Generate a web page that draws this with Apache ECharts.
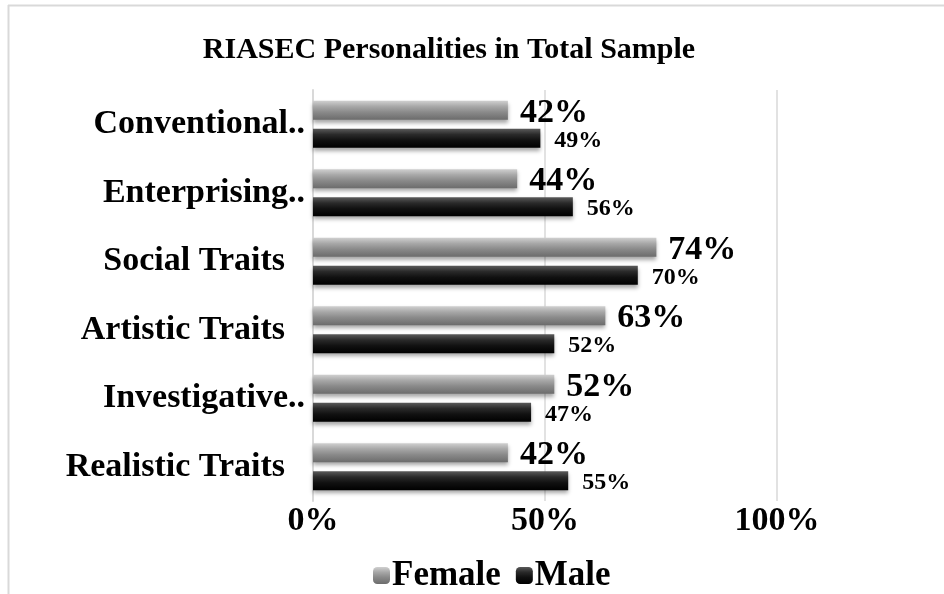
<!DOCTYPE html>
<html>
<head>
<meta charset="utf-8">
<script src="https://cdn.jsdelivr.net/npm/echarts@6/dist/echarts.min.js"></script>
<style>
  html, body { margin: 0; padding: 0; background: #fff; }
  #main { width: 944px; height: 594px; }
</style>
</head>
<body>
<div id="main"></div>
<script>
var categories = ['Realistic Traits', 'Investigative..', 'Artistic Traits', 'Social Traits', 'Enterprising..', 'Conventional..'];
var female = [42, 52, 63, 74, 44, 42];
var male = [55, 47, 52, 70, 56, 49];
var xTicks = [0, 50, 100];

var serif = "'Liberation Serif', 'Times New Roman', serif";

var myChart = echarts.init(document.getElementById('main'));
var option = {
    backgroundColor: '#fff',
    textStyle: { fontFamily: serif },
    graphic: [
        { type: 'line', shape: { x1: 8, y1: 5.5, x2: 944, y2: 5.5 }, style: { stroke: '#d9d9d9', lineWidth: 2 } },
        { type: 'line', shape: { x1: 8.5, y1: 5, x2: 8.5, y2: 594 }, style: { stroke: '#d9d9d9', lineWidth: 2 } }
    ],
    title: {
        text: 'RIASEC Personalities in Total Sample',
        left: 444,
        textAlign: 'center',
        top: 30,
        textStyle: { fontFamily: serif, fontWeight: 'bold', fontSize: 30, color: '#000' }
    },
    legend: {
        data: ['Female', 'Male'],
        top: 553,
        left: 368,
        itemWidth: 17,
        itemHeight: 17,
        itemGap: 15,
        textStyle: { fontFamily: serif, fontWeight: 'bold', fontSize: 35, color: '#000', padding: [0, 0, 0, -3] }
    },
    grid: { left: 313, right: 167, top: 90, bottom: 93 },
    xAxis: {
        type: 'value',
        min: 0,
        max: 100,
        interval: 50,
        axisLine: { show: false },
        axisTick: { show: false },
        splitLine: { lineStyle: { color: '#d9d9d9', width: 1.5 } },
        axisLabel: {
            margin: 3,
            fontFamily: serif,
            fontWeight: 'bold',
            fontSize: 34,
            color: '#000',
            formatter: function (v) { return xTicks.indexOf(v) >= 0 ? v + '%' : ''; }
        }
    },
    yAxis: {
        type: 'category',
        data: categories,
        axisLine: { lineStyle: { color: '#d9d9d9', width: 2 } },
        axisTick: { show: false },
        axisLabel: {
            margin: 8,
            formatter: function (v) {
                return v.slice(-2) === '..' ? '{a|' + v + '}' : '{b|' + v + '}';
            },
            rich: {
                a: { fontFamily: serif, fontWeight: 'bold', fontSize: 34, color: '#000' },
                b: { fontFamily: serif, fontWeight: 'bold', fontSize: 34, color: '#000', padding: [0, 20, 0, 0] }
            }
        }
    },
    series: [{
        name: 'Female',
        type: 'bar',
        data: female,
        barWidth: 19,
        barGap: '48%',
        itemStyle: {
            color: new echarts.graphic.LinearGradient(0, 0, 0, 1, [
                { offset: 0, color: '#d0d0d0' },
                { offset: 0.3, color: '#a8a8a8' },
                { offset: 0.6, color: '#8a8a8a' },
                { offset: 1, color: '#6c6c6c' }
            ]),
            shadowColor: 'rgba(0,0,0,0.35)',
            shadowBlur: 4,
            shadowOffsetY: 3
        },
        label: {
            show: true,
            position: 'right',
            distance: 12,
            offset: [0, 3],
            formatter: '{c}%',
            fontFamily: serif,
            fontWeight: 'bold',
            fontSize: 34,
            color: '#000'
        }
    }, {
        name: 'Male',
        type: 'bar',
        data: male,
        barWidth: 19,
        itemStyle: {
            color: new echarts.graphic.LinearGradient(0, 0, 0, 1, [
                { offset: 0, color: '#5a5a5a' },
                { offset: 0.3, color: '#2a2a2a' },
                { offset: 0.6, color: '#111' },
                { offset: 1, color: '#000' }
            ]),
            shadowColor: 'rgba(0,0,0,0.35)',
            shadowBlur: 4,
            shadowOffsetY: 3
        },
        label: {
            show: true,
            position: 'right',
            distance: 14,
            offset: [0, 2],
            formatter: '{c}%',
            fontFamily: serif,
            fontWeight: 'bold',
            fontSize: 24,
            color: '#000'
        }
    }]
};
myChart.setOption(option);
</script>
</body>
</html>
